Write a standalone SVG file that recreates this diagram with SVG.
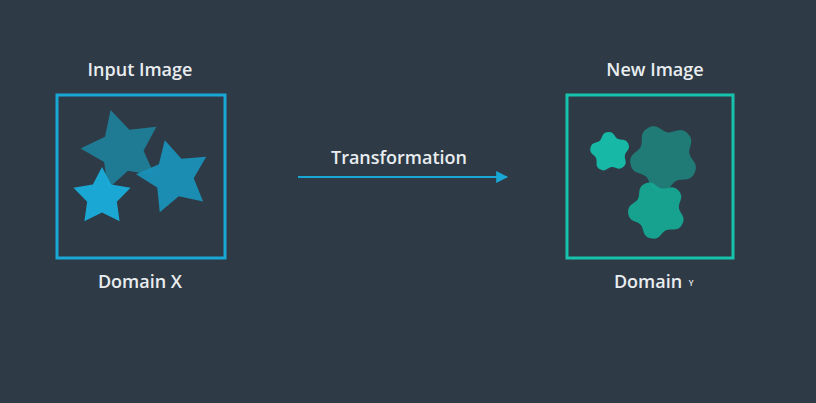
<svg xmlns="http://www.w3.org/2000/svg" xmlns:xlink="http://www.w3.org/1999/xlink" width="816" height="403" viewBox="0 0 816 403">
<style>
.lbl{font-family:"Open Sans","Liberation Sans",sans-serif;font-weight:600;fill:#e9edf0;text-anchor:middle}
.boxX{fill:none;stroke:#19a8d5;stroke-width:3}
.boxY{fill:none;stroke:#18c3ae;stroke-width:3}
</style>
<defs>
<path id="star" d="M0,-50 L15.28,-21.03 L47.55,-15.45 L24.73,8.03 L29.39,40.45 L0,26 L-29.39,40.45 L-24.73,8.03 L-47.55,-15.45 L-15.28,-21.03 Z"/>
<path id="blob" d="M0,-50 C16,-50 14.25,-36.62 22.34,-30.74 C30.43,-24.86 42.61,-30.67 47.55,-15.45 C52.49,-0.23 39.23,2.23 36.14,11.74 C33.05,21.25 42.33,31.05 29.39,40.45 C16.45,49.85 10,38 0,38 C-10,38 -16.45,49.85 -29.39,40.45 C-42.33,31.05 -33.05,21.25 -36.14,11.74 C-39.23,2.23 -52.49,-0.23 -47.55,-15.45 C-42.61,-30.67 -30.43,-24.86 -22.34,-30.74 C-14.25,-36.62 -16,-50 0,-50 Z"/>
<marker id="arr" viewBox="0 0 10 10" refX="9" refY="5" markerWidth="6" markerHeight="6" markerUnits="strokeWidth" orient="auto">
<path d="M0,0 L10,5 L0,10 Z" fill="#19a8d5"/>
</marker>
</defs>
<rect width="816" height="403" fill="#2e3b46"/>
<g id="input-image">
<text class="lbl" x="140" y="76" font-size="18">Input Image</text>
<rect class="boxX" x="57" y="95" width="168" height="163"/>
<use xlink:href="#star" fill="#1f7a94" transform="translate(122,150) rotate(-16) scale(0.83)"/>
<use xlink:href="#star" fill="#1a90b8" fill-opacity="0.95" transform="translate(174,177) rotate(-14) scale(0.76)"/>
<use xlink:href="#star" fill="#19addb" fill-opacity="0.95" transform="translate(102,197) scale(0.6)"/>
<text class="lbl" x="140" y="288" font-size="18">Domain X</text>
</g>
<g id="new-image">
<text class="lbl" x="655" y="76" font-size="18">New Image</text>
<rect class="boxY" x="567" y="95" width="166" height="163"/>
<use xlink:href="#blob" fill="#17b9a6" transform="translate(610,152) rotate(-6) scale(0.4)"/>
<use xlink:href="#blob" fill="#207b77" transform="translate(664,158) rotate(-28) scale(0.68)"/>
<use xlink:href="#blob" fill="#17a592" fill-opacity="0.97" transform="translate(657,210) rotate(-24) scale(0.58)"/>
<text class="lbl" x="648" y="288" font-size="18">Domain</text>
<text class="lbl" x="691" y="286" font-size="8">Y</text>
</g>
<g id="connectors">
<line x1="298" y1="177" x2="507" y2="177" stroke="#19a8d5" stroke-width="2" marker-end="url(#arr)"/>
<text class="lbl" x="399" y="164" font-size="18">Transformation</text>
</g>
</svg>
